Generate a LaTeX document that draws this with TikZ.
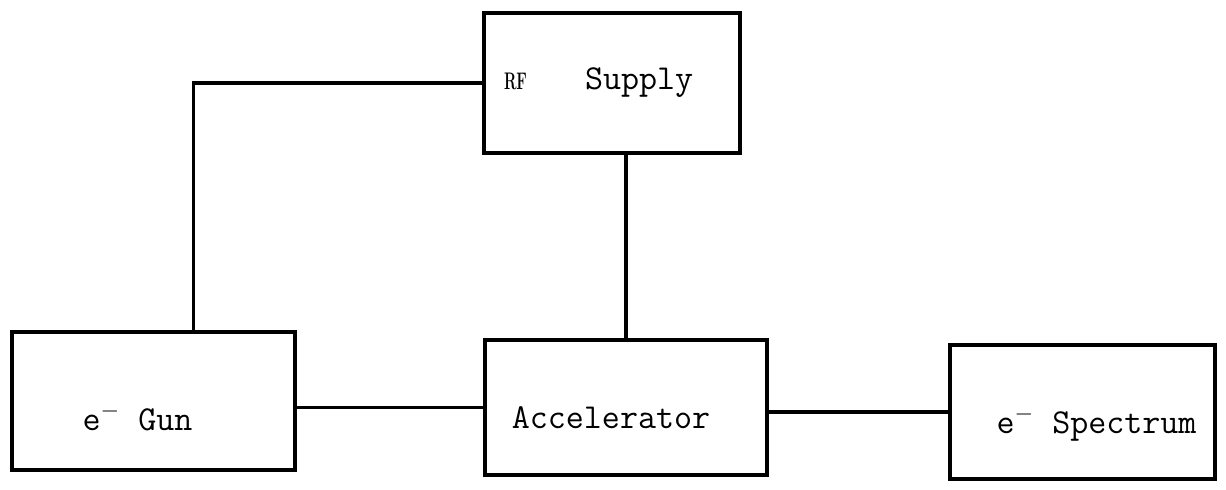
\documentclass[tikz,border=0pt]{standalone}
\usepackage{fontspec}
\usetikzlibrary{positioning}
\begin{document}
\begin{tikzpicture}[x=0.5pt, y=-0.5pt,
  font=\ttfamily\fontsize{17.5}{20}\selectfont,
  block/.style={draw, rectangle, line width=2pt, inner sep=0pt},
  wire/.style={line width=1.7pt}]
\useasboundingbox (0,0) rectangle (1226,490);
\node (rf) [block, minimum width=128pt, minimum height=70pt, text width=108pt, align=left] at (612,83)
  {\scalebox{0.62}[1]{\rmfamily\bfseries\fontsize{12}{14}\selectfont RF}\hspace{29pt}Supply\\[0pt]};
\node (gun) [block, minimum width=141.5pt, minimum height=69pt,
  label={[xshift=-8pt, yshift=-8pt]center:e$^{-}$\hspace{9pt}Gun}] at (153.5,401) {};
\node (acc) [block, minimum width=141pt, minimum height=67.5pt,
  label={[xshift=-7.5pt, yshift=-5pt]center:Accelerator}] at (626,407.5) {};
\node (spec) [block, minimum width=132.5pt, minimum height=67pt,
  label={[xshift=7pt, yshift=-6pt]center:e$^{-}$\hspace{9pt}Spectrum}] at (1082.5,412) {};
\draw[wire] (rf.west) -| ([xshift=20pt]gun.north);
\draw[wire] (rf.south -| acc.north) -- (acc.north);
\draw[wire] (acc.west) -- (acc.west -| gun.east);
\draw[wire] (spec.west) -- (spec.west -| acc.east);
\end{tikzpicture}
\end{document}
